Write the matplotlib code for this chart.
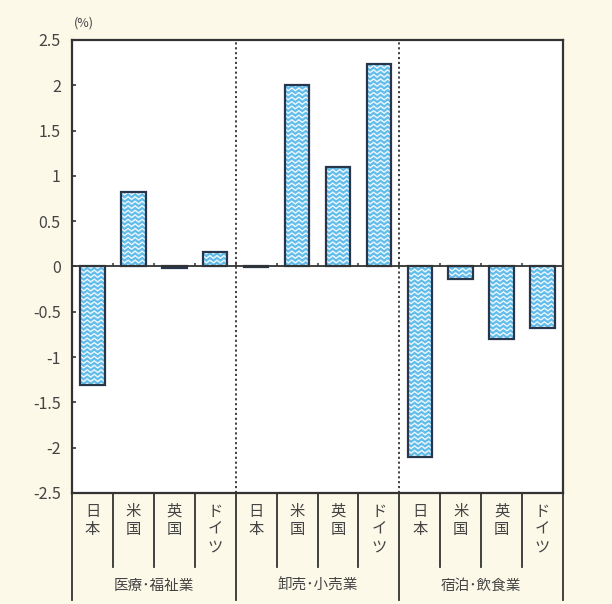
import matplotlib.pyplot as plt
import matplotlib.transforms as mtransforms
import numpy as np

plt.rcParams['font.family'] = ['Noto Sans CJK JP', 'DejaVu Sans']

industries = ['医療･福祉業', '卸売･小売業', '宿泊･飲食業']
countries = ['日本', '米国', '英国', 'ドイツ']
# 伸び率 (%), 業種ごとに 日本・米国・英国・ドイツ の順
health_welfare = [-1.31, 0.82, -0.02, 0.16]
wholesale_retail = [-0.01, 2.00, 1.10, 2.24]
lodging_food = [-2.10, -0.14, -0.80, -0.68]

values = health_welfare + wholesale_retail + lodging_food
n_c = len(countries)
n_g = len(industries)
x = np.arange(n_g * n_c)

fig = plt.figure(figsize=(6.12, 6.04), dpi=100, facecolor='#fdf9e8')
ax = fig.add_axes([0.1176, 0.1838, 0.8024, 0.75])
ax.set_facecolor('white')

bars = ax.bar(x, values, width=0.6, color='#62bdeb', linewidth=0, zorder=3)

# wavy white pattern inside each bar
for b in bars:
    x0, w = b.get_x(), b.get_width()
    y0, h = b.get_y(), b.get_height()
    lo, hi = min(y0, y0 + h), max(y0, y0 + h)
    xs = np.linspace(x0, x0 + w, 15)
    tri = np.abs(((xs - x0) / (w / 3.5)) % 1 - 0.5) * 2
    for base in np.arange(lo - 0.06, hi + 0.06, 0.05):
        ln, = ax.plot(xs, base + 0.03 * tri, color='#eef8ff', lw=1.0, zorder=4)
        ln.set_clip_path(b)

# bar outlines on top of the pattern
ax.bar(x, values, width=0.6, fill=False, edgecolor='#27364a', linewidth=1.6, zorder=5)

ax.set_xlim(-0.5, n_g * n_c - 0.5)
ax.set_ylim(-2.5, 2.5)
ax.set_yticks(np.arange(-2.5, 2.51, 0.5))
ax.set_yticklabels(['%g' % v for v in np.arange(-2.5, 2.51, 0.5)])
ax.tick_params(axis='y', direction='in', length=3, width=1.2, colors='#333333',
               labelcolor='#444444', labelsize=11.5, pad=8)
ax.set_xticks([])

for s in ax.spines.values():
    s.set_color('#333333')
    s.set_linewidth(1.6)

ax.axhline(0, color='#333333', lw=1.3, zorder=6)
# small ticks on the zero line between bars
ax.vlines(np.arange(0.5, n_g * n_c - 1, 1.0), 0, 0.04, color='#333333', lw=1.1, zorder=6)

# dotted separators between industries
for gx in np.arange(1, n_g) * n_c - 0.5:
    ax.axvline(gx, color='#333333', lw=1.3, ls=(0, (1.2, 1.5)), zorder=2)

ax.text(-0.45, 2.62, '(%)', fontsize=9, color='#444444', ha='left', va='bottom')

# category labels below the plot
trans = mtransforms.blended_transform_factory(ax.transData, ax.transAxes)
for i, xi in enumerate(x):
    name = countries[i % n_c]
    ax.text(xi, -0.022, '\n'.join(name), transform=trans, ha='center', va='top',
            fontsize=11, color='#444444', linespacing=1.05)
for xb in np.arange(0.5, n_g * n_c - 1, 1.0):
    if (xb + 0.5) % n_c:
        ax.plot([xb, xb], [0, -0.163], transform=trans, color='#333333', lw=1.3,
                clip_on=False)
for xb in np.arange(0, n_g + 1) * n_c - 0.5:
    ax.plot([xb, xb], [0, -0.236], transform=trans, color='#333333', lw=1.3,
            clip_on=False)
for g, name in enumerate(industries):
    ax.text(g * n_c + (n_c - 1) / 2, -0.205, name, transform=trans, ha='center',
            va='center', fontsize=10.5, color='#444444')

fig.savefig('out.png', dpi=100, facecolor=fig.get_facecolor())
